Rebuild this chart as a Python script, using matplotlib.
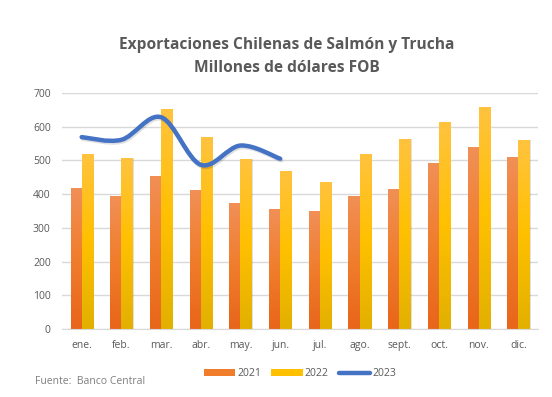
"""
Exportaciones chilenas de salmón y trucha, 2021-2023 (millones USD FOB).
Barras con degradado y línea suavizada estilo Excel.
"""

import numpy as np
import matplotlib.pyplot as plt
from matplotlib.path import Path
from matplotlib.patches import PathPatch
from matplotlib.colors import LinearSegmentedColormap
import matplotlib.patheffects as pe

plt.rcParams['font.family'] = ['Open Sans', 'DejaVu Sans']

# Datos
meses = ['ene.', 'feb.', 'mar.', 'abr.', 'may.', 'jun.',
         'jul.', 'ago.', 'sept.', 'oct.', 'nov.', 'dic.']
v2021 = [419, 395, 454, 413, 374, 356, 350, 395, 415, 493, 540, 510]
v2022 = [519, 507, 653, 570, 504, 469, 436, 519, 564, 614, 659, 561]
v2023 = [569, 561, 628, 487, 544, 505]

gris = '#595959'
cmap21 = LinearSegmentedColormap.from_list('c21', ['#E8651A', '#F07D2C', '#F19057'])
cmap22 = LinearSegmentedColormap.from_list('c22', ['#E2B000', '#FFC000', '#FFC33F'])


def barras_degradado(ax, x, alturas, ancho, cmap, color_leyenda, etiqueta):
    bars = ax.bar(x, alturas, ancho, color=color_leyenda, label=etiqueta,
                  zorder=2)
    grad = np.linspace(0, 1, 256).reshape(-1, 1)
    for b in bars:
        x0, y0 = b.get_x(), b.get_y()
        w, h = b.get_width(), b.get_height()
        # sombra suave
        ax.bar(x0 + w / 2 + 0.03, h, w, bottom=y0, color='#000000',
               alpha=0.12, zorder=1.5)
        im = ax.imshow(grad, cmap=cmap, origin='lower', aspect='auto',
                       extent=[x0, x0 + w, y0, y0 + h], zorder=2.5)
        im.set_clip_path(b)
    return bars


def curva_suave(x, y, t=0.5):
    # Bezier cúbica tipo Catmull-Rom (suavizado de Excel)
    pts = np.column_stack([x, y]).astype(float)
    n = len(pts)
    verts = [pts[0]]
    codes = [Path.MOVETO]
    for i in range(n - 1):
        p0 = pts[i - 1] if i > 0 else pts[i]
        p1 = pts[i]
        p2 = pts[i + 1]
        p3 = pts[i + 2] if i + 2 < n else pts[i + 1]
        c1 = p1 + (p2 - p0) * t / 3
        c2 = p2 - (p3 - p1) * t / 3
        verts += [c1, c2, p2]
        codes += [Path.CURVE4] * 3
    return Path(verts, codes)


fig = plt.figure(figsize=(5.52, 3.97), dpi=100)
ax = fig.add_axes([0.112, 0.171, 0.863, 0.595])

x = np.arange(len(meses))
ancho = 0.28
b21 = barras_degradado(ax, x - ancho / 2, v2021, ancho, cmap21, '#F07D2C', '2021')
b22 = barras_degradado(ax, x + ancho / 2, v2022, ancho, cmap22, '#FFC000', '2022')

# Línea 2023 suavizada
x23 = np.arange(len(v2023))
ruta = curva_suave(x23, v2023)
linea = PathPatch(ruta, facecolor='none', edgecolor='#4472C4', lw=3.2,
                  capstyle='round', zorder=4,
                  path_effects=[pe.SimpleLineShadow(offset=(0.8, -1.2), alpha=0.12),
                                pe.Normal()])
ax.add_patch(linea)
l23, = ax.plot([], [], color='#4472C4', lw=3.2, label='2023',
               solid_capstyle='round')

ax.set_xlim(-0.5, len(meses) - 0.5)
ax.set_ylim(0, 700)
ax.set_yticks(range(0, 701, 100))
ax.set_xticks(x)
ax.set_xticklabels(meses)
ax.grid(axis='y', color='#D9D9D9', lw=1, zorder=0)
ax.set_axisbelow(True)
for s in ['top', 'right', 'left']:
    ax.spines[s].set_visible(False)
ax.spines['bottom'].set_color('#D9D9D9')
ax.tick_params(length=0, colors=gris, labelsize=7.5, pad=8)

fig.text(0.52, 0.857, 'Exportaciones Chilenas de Salmón y Trucha\nMillones de dólares FOB',
         ha='center', va='center', fontsize=11.2, fontweight='bold', color=gris,
         linespacing=1.55)

ax.legend([b21, b22, l23], ['2021', '2022', '2023'],
          loc='upper center', bbox_to_anchor=(0.5, -0.125), ncol=3,
          frameon=False, fontsize=7.5, labelcolor=gris, handlelength=3.0,
          handleheight=0.6, columnspacing=1.0, handletextpad=0.2)

fig.text(0.063, 0.033, 'Fuente:  Banco Central', fontsize=7.5, color='#7F7F7F')

fig.savefig('out.png', dpi=100)
